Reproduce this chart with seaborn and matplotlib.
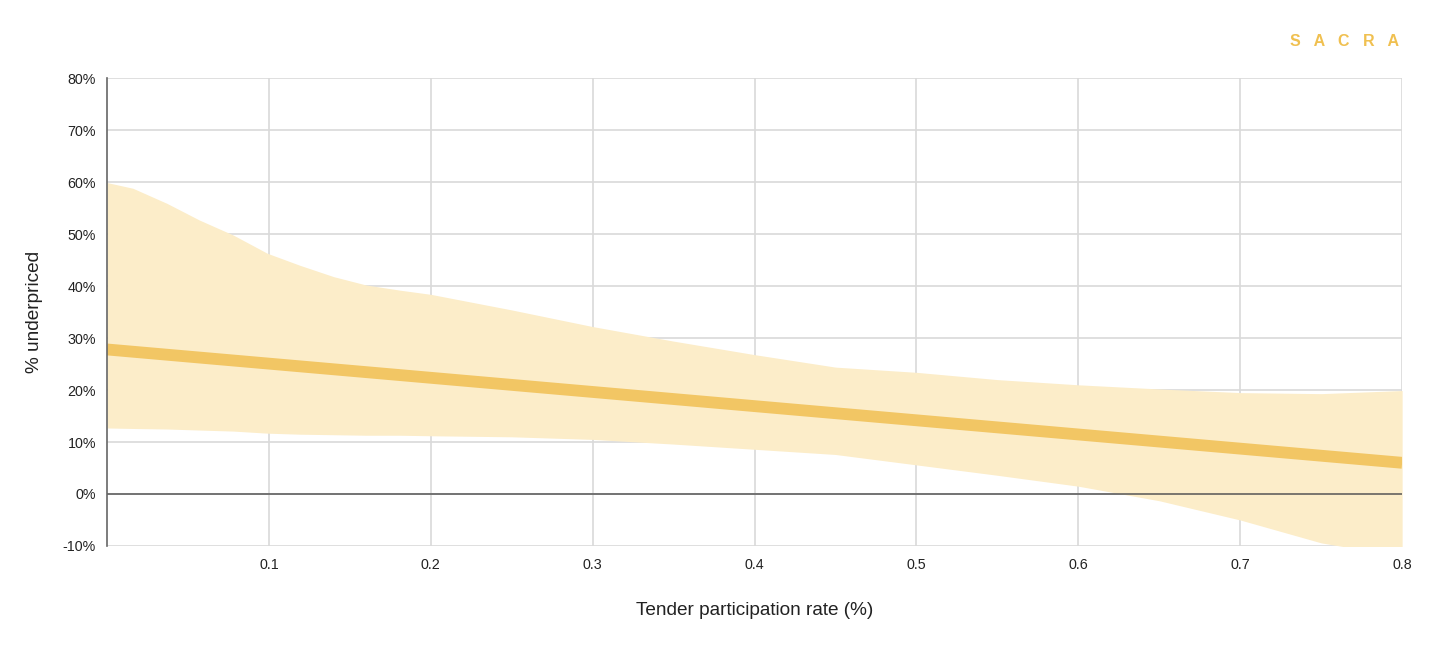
import matplotlib
matplotlib.use("Agg")
import matplotlib.pyplot as plt
import seaborn as sns
import pandas as pd
from matplotlib.ticker import FuncFormatter, FixedLocator

# ---- data ----
line_x = [0.0, 0.8]
line_y = [27.8, 6.0]

band_x = [0.0, 0.016, 0.037, 0.057, 0.078, 0.099, 0.119, 0.14, 0.16, 0.181,
          0.2, 0.25, 0.3, 0.35, 0.4, 0.45, 0.5, 0.55, 0.6, 0.65,
          0.7, 0.75, 0.8]
band_upper = [59.9, 58.8, 55.9, 52.7, 49.8, 46.3, 44.0, 41.8, 40.2, 39.2,
              38.4, 35.4, 32.2, 29.4, 26.8, 24.4, 23.4, 22.0, 21.0, 20.2,
              19.5, 19.3, 19.9]
band_lower = [12.7, 12.6, 12.5, 12.3, 12.1, 11.7, 11.5, 11.4, 11.3, 11.3,
              11.2, 11.0, 10.5, 9.6, 8.6, 7.6, 5.6, 3.6, 1.5, -1.3,
              -5.0, -9.4, -12.0]

x_ticks = [0.1, 0.2, 0.3, 0.4, 0.5, 0.6, 0.7, 0.8]
y_ticks = [-10, 0, 10, 20, 30, 40, 50, 60, 70, 80]

x_label = "Tender participation rate (%)"
y_label = "% underpriced"
brand = "S   A   C   R   A"

# ---- style ----
sns.set_theme(style="white")
plt.rcParams['font.family'] = ['Liberation Sans', 'DejaVu Sans']

fig = plt.figure(figsize=(14.56, 6.45), dpi=100)
ax = fig.add_axes([0.0735, 0.1535, 0.963 - 0.0735, 0.879 - 0.1535])

band_df = pd.DataFrame({"x": band_x, "upper": band_upper, "lower": band_lower})
line_df = pd.DataFrame({"x": line_x, "y": line_y})

ax.fill_between(band_df["x"], band_df["lower"], band_df["upper"],
                color="#fcedc9", linewidth=0, zorder=2)
sns.lineplot(data=line_df, x="x", y="y", ax=ax, color="#f2c664",
             linewidth=8.5, zorder=3, solid_capstyle="butt")

ax.set_xlim(0, 0.8)
ax.set_ylim(-10, 80)
ax.xaxis.set_major_locator(FixedLocator(x_ticks))
ax.yaxis.set_major_locator(FixedLocator(y_ticks))
ax.xaxis.set_major_formatter(FuncFormatter(lambda v, p: f"{v:g}"))
ax.yaxis.set_major_formatter(FuncFormatter(lambda v, p: f"{int(v)}%"))

ax.grid(True, color="#d9d9d9", linewidth=1.2, zorder=0)
ax.set_axisbelow(True)
ax.axhline(0, color="#555555", linewidth=1.1, zorder=4)

for s in ["top", "right", "bottom"]:
    ax.spines[s].set_visible(False)
ax.spines["left"].set_color("#666666")
ax.spines["left"].set_linewidth(1.2)
ax.spines["left"].set_zorder(5)

ax.tick_params(axis="both", length=0, labelsize=10.3, colors="#222222")
ax.tick_params(axis="y", pad=8)
ax.tick_params(axis="x", pad=9)

ax.set_xlabel(x_label, fontsize=13.7, color="#222222", labelpad=21)
ax.set_ylabel(y_label, fontsize=13.7, color="#222222", labelpad=14)

fig.text(1345 / 1456, 1 - 42 / 645, brand, ha="center", va="center",
         fontsize=11.5, fontweight="bold", color="#f0c050")

fig.savefig("out.png", dpi=100)
